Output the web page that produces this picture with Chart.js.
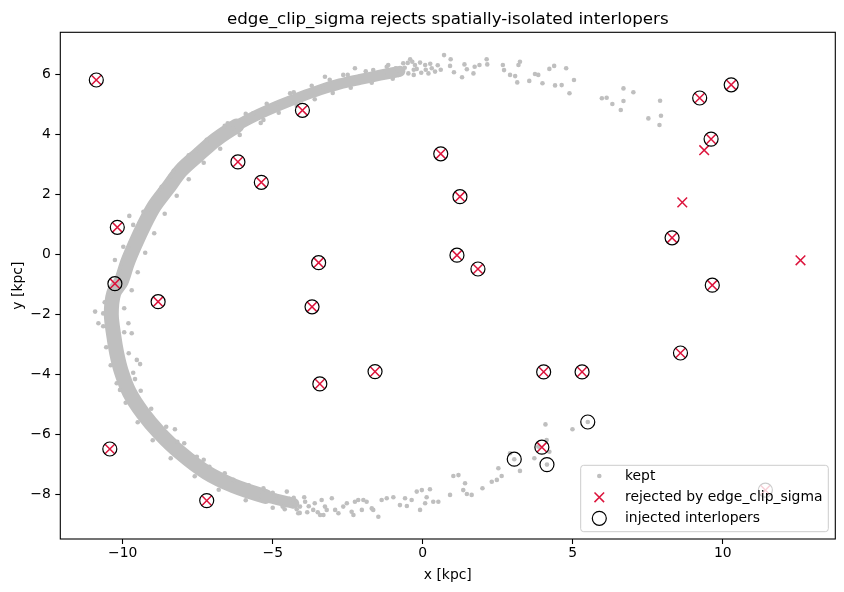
<!DOCTYPE html>
<html>
<head>
<meta charset="utf-8">
<script src="https://cdn.jsdelivr.net/npm/chart.js@4.4.1/dist/chart.umd.min.js"></script>
<style>
  html, body { margin: 0; padding: 0; background: #fff; }
  #wrap { width: 844px; height: 592px; }
</style>
</head>
<body>
<div id="wrap"><canvas id="edgeClip" width="844" height="592"></canvas></div>
<script>
const titleText = 'edge_clip_sigma rejects spatially-isolated interlopers';
const xLabel = 'x [kpc]';
const yLabel = 'y [kpc]';
const xTicks = [-10, -5, 0, 5, 10];
const yTicks = [-8, -6, -4, -2, 0, 2, 4, 6];
const xRange = [-12.08, 13.75];
const yRange = [-9.49, 7.4];
const seriesNames = ['kept', 'rejected by edge_clip_sigma', 'injected interlopers'];

// centre line of the dense part of the kept stream
const bandPath = [
  [-0.76, 6.1], [-1.42, 5.97], [-2.09, 5.83], [-2.76, 5.68], [-3.42, 5.48],
  [-4.09, 5.24], [-4.75, 4.98], [-5.5, 4.65], [-6.2, 4.28], [-6.9, 3.82], [-7.5, 3.3],
  [-8.05, 2.8], [-8.5, 2.2], [-8.95, 1.6], [-9.3, 0.95], [-9.6, 0.3], [-9.85, -0.3],
  [-10.05, -0.9], [-10.3, -1.3], [-10.38, -2.0], [-10.3, -2.7], [-10.2, -3.3],
  [-10.05, -3.9], [-9.78, -4.6], [-9.33, -5.3], [-8.78, -5.95], [-8.1, -6.6],
  [-7.2, -7.28], [-6.3, -7.72], [-5.25, -8.07], [-4.3, -8.3]
];

const keptPoints = [
  // sparse upper-right tail
  [0.71, 6.64], [0.93, 6.5], [0.91, 6.28], [1.04, 6.07], [1.31, 5.9], [1.39, 6.33], [1.47, 6.17],
  [1.69, 6.03], [1.73, 6.25], [1.89, 6.31], [2.13, 6.5], [2.15, 6.33], [2.67, 6.31], [2.71, 6.14],
  [2.91, 5.98], [3.08, 5.94], [3.15, 5.73], [3.19, 6.31], [3.24, 6.42], [3.55, 5.78], [3.74, 6.01],
  [3.85, 5.98], [3.99, 5.7], [4.22, 6.18], [4.38, 6.28], [4.41, 5.63], [4.63, 5.64], [4.78, 6.2],
  [4.89, 5.37], [5.04, 5.81], [5.97, 5.2], [6.13, 5.22], [6.32, 5.01], [6.6, 4.81], [6.69, 5.53],
  [6.69, 5.11], [7.02, 5.4], [7.52, 4.53], [7.91, 5.12], [7.94, 4.62], [7.89, 4.31],
  // top, thinning out
  [-0.65, 6.37], [-0.42, 6.5], [-0.26, 6.31], [-0.09, 6.39], [0.08, 6.31], [0.19, 6.03], [0.41, 6.09],
  [-0.48, 6.03], [-0.81, 5.98], [-1.15, 6.31], [-2.26, 6.2], [-3.26, 5.92], [-2.65, 5.98], [-1.65, 6.14],
  [0.3, 6.2], [0.5, 6.3], [-0.3, 6.15], [-0.9, 6.2], [-0.6, 6.22], [-0.2, 6.18], [0.1, 6.15],
  [-0.35, 6.42], [0.25, 6.35], [-0.7, 6.1], [-1.3, 6.05], [-0.05, 6.05], [0.6, 6.15],
  // edges of the dense band, top
  [-0.5, 6.38], [-1.2, 6.25], [-1.9, 6.1], [-2.5, 5.98], [-3.1, 5.82], [-3.7, 5.62], [-4.3, 5.4],
  [-0.3, 5.98], [-1.0, 5.85], [-1.7, 5.72], [-2.4, 5.55], [-3.0, 5.38], [-3.6, 5.17], [-4.2, 4.95], [-4.8, 4.72],
  // upper-left, outer and inner edge
  [-5.2, 5.02], [-5.9, 4.68], [-6.6, 4.28], [-7.2, 3.82], [-7.8, 3.3], [-8.3, 2.78], [-8.75, 2.15],
  [-9.15, 1.5], [-9.5, 0.85], [-9.8, 0.2], [-10.05, -0.45], [-10.3, -1.05],
  [-5.4, 4.38], [-6.1, 3.98], [-6.75, 3.52], [-7.3, 3.05], [-7.8, 2.5], [-8.2, 1.95], [-8.6, 1.35],
  [-8.95, 0.7], [-9.25, 0.05], [-9.5, -0.6], [-9.7, -1.2],
  [-6.5, 4.37], [-6.31, 4.2], [-7.2, 3.7], [-7.56, 3.45], [-8.42, 2.59], [-8.7, 2.25], [-9.31, 1.42],
  [-9.65, 0.98], [-9.78, 1.28], [-9.98, 0.25], [-10.26, -0.19], [-3.31, 5.53], [-4.42, 5.37],
  [-4.87, 5.03], [-5.65, 4.7], [-5.31, 4.48],
  // lower-left, outer and inner edge
  [-10.6, -1.6], [-10.65, -2.4], [-10.55, -3.1], [-10.4, -3.7], [-10.2, -4.3], [-9.9, -4.95],
  [-9.5, -5.6], [-9.0, -6.2], [-8.4, -6.8], [-7.6, -7.4], [-6.8, -7.85], [-5.9, -8.2], [-5.0, -8.45], [-4.1, -8.62],
  [-9.95, -1.8], [-9.95, -2.6], [-9.8, -3.3], [-9.65, -3.95], [-9.4, -4.55], [-9.05, -5.15],
  [-8.55, -5.75], [-7.95, -6.3], [-7.3, -6.85], [-6.6, -7.3], [-5.8, -7.7], [-5.0, -7.95], [-4.3, -8.12],
  [-10.92, -1.91], [-10.81, -2.3], [-10.65, -1.97], [-9.81, -2.3], [-9.7, -2.63], [-9.53, -3.52],
  [-9.42, -3.66], [-9.59, -4.16], [-10.09, -4.52], [-8.26, -5.83], [-8.18, -6.25], [-7.53, -6.75],
  [-7.11, -7.08], [-6.31, -7.52], [-5.31, -7.8], [-4.53, -7.91], [-4.15, -8.63], [-3.42, -8.69], [-3.2, -8.52],
  [-4.67, -8.41], [-4.31, -8.3], [-4.09, -8.41], [-3.92, -8.25], [-3.65, -8.52],
  [-4.9, -8.05], [-4.75, -8.3], [-4.45, -8.15], [-4.2, -8.5], [-3.95, -8.1], [-3.8, -8.4],
  [-3.6, -8.3], [-3.5, -8.6], [-4.6, -8.5], [-3.85, -8.6],
  // sparse bottom tail
  [-3.37, -8.19], [-3.26, -8.41], [-3.31, -8.69], [-3.03, -8.13], [-2.92, -8.52], [-2.81, -8.63],
  [-2.65, -8.41], [-2.53, -8.3], [-2.37, -8.58], [-2.31, -8.69], [-2.26, -8.25], [-2.15, -8.19],
  [-2.03, -8.52], [-1.98, -8.19], [-1.87, -8.25], [-1.7, -8.47], [-1.65, -8.52], [-1.48, -8.75],
  [-1.37, -8.19], [-1.2, -8.13], [-0.98, -8.1], [-0.76, -8.36], [-0.59, -8.13], [-0.53, -8.39],
  [-0.37, -8.19], [-0.2, -7.91], [-0.09, -8.52], [-0.03, -7.86], [0.08, -8.3], [0.13, -8.1],
  [0.24, -7.83], [0.35, -8.25], [0.52, -8.25], [0.91, -8.02], [1.02, -7.39], [1.19, -7.36],
  [1.35, -7.86], [1.41, -7.63], [1.47, -7.99], [1.63, -8.02], [1.99, -7.8], [2.3, -7.58],
  [2.47, -7.52], [2.63, -7.39], [2.52, -7.13], [3.24, -7.22], [2.91, -6.63], [3.05, -6.83],
  [3.72, -6.8], [3.85, -6.41], [4.13, -6.19], [4.09, -5.67], [4.22, -6.58], [4.14, -7.01],
  [4.99, -5.83], [5.5, -5.59]
];

const rejectedPoints = [
  [-10.88, 5.81], [-10.18, 0.9], [-10.26, -0.98], [-8.82, -1.58], [-6.16, 3.08], [-5.38, 2.4],
  [-4.01, 4.8], [0.6, 3.35], [1.24, 1.92], [-3.47, -0.28], [1.14, -0.03], [1.84, -0.49],
  [-3.69, -1.75], [-1.59, -3.91], [-3.43, -4.32], [4.03, -3.92], [3.97, -6.43], [5.31, -3.92],
  [8.59, -3.29], [11.42, -7.86], [10.28, 5.65], [9.23, 5.21], [9.61, 3.84], [8.31, 0.55],
  [9.65, -1.03], [-10.43, -6.49], [-7.2, -8.21], [9.38, 3.47], [8.65, 1.73], [12.59, -0.2]
];

const interloperPoints = [
  [-10.88, 5.81], [-10.18, 0.9], [-10.26, -0.98], [-8.82, -1.58], [-6.16, 3.08], [-5.38, 2.4],
  [-4.01, 4.8], [0.6, 3.35], [1.24, 1.92], [-3.47, -0.28], [1.14, -0.03], [1.84, -0.49],
  [-3.69, -1.75], [-1.59, -3.91], [-3.43, -4.32], [4.03, -3.92], [3.97, -6.43], [3.05, -6.83],
  [4.14, -7.01], [5.31, -3.92], [8.59, -3.29], [5.5, -5.59], [11.42, -7.86], [10.28, 5.65],
  [9.23, 5.21], [9.61, 3.84], [8.31, 0.55], [9.65, -1.03], [-10.43, -6.49], [-7.2, -8.21]
];

const FONT = 'DejaVu Sans';
const KEPT = '#bfbfbf';
const RED = '#dc143c';
const toXY = arr => arr.map(p => ({x: p[0], y: p[1]}));
const fmt = v => v < 0 ? '\u2212' + Math.abs(v) : String(v);

// band is thinner along the top and where it breaks up at the bottom
function bandWidth(c) {
  const p = bandPath[c.p0DataIndex];
  if (p[1] > 4.6) return 11;
  if (p[1] < -7.9) return 11;
  return 15;
}

const framePlugin = {
  id: 'framePlugin',
  afterDatasetsDraw(chart) {
    const ctx = chart.ctx, a = chart.chartArea;
    ctx.save();
    ctx.strokeStyle = '#000';
    ctx.lineWidth = 1.1;
    ctx.strokeRect(a.left, a.top, a.right - a.left, a.bottom - a.top);

    ctx.fillStyle = '#000';
    ctx.font = '16.7px "' + FONT + '"';
    ctx.textAlign = 'center';
    ctx.textBaseline = 'alphabetic';
    ctx.fillText(titleText, (a.left + a.right) / 2, 24);

    // legend box, lower right
    const w = 247.6, h = 66.4;
    const x0 = a.right - 7 - w, y0 = a.bottom - 7.3 - h, r = 3;
    ctx.beginPath();
    ctx.moveTo(x0 + r, y0);
    ctx.lineTo(x0 + w - r, y0);
    ctx.quadraticCurveTo(x0 + w, y0, x0 + w, y0 + r);
    ctx.lineTo(x0 + w, y0 + h - r);
    ctx.quadraticCurveTo(x0 + w, y0 + h, x0 + w - r, y0 + h);
    ctx.lineTo(x0 + r, y0 + h);
    ctx.quadraticCurveTo(x0, y0 + h, x0, y0 + h - r);
    ctx.lineTo(x0, y0 + r);
    ctx.quadraticCurveTo(x0, y0, x0 + r, y0);
    ctx.closePath();
    ctx.fillStyle = 'rgba(255,255,255,0.8)';
    ctx.fill();
    ctx.strokeStyle = '#cccccc';
    ctx.lineWidth = 1;
    ctx.stroke();

    const mx = x0 + 18.6, tx = x0 + 44.3;
    const rows = [y0 + 10.7, y0 + 32, y0 + 53];
    ctx.fillStyle = KEPT;
    ctx.beginPath(); ctx.arc(mx, rows[0], 2.3, 0, Math.PI * 2); ctx.fill();
    ctx.strokeStyle = RED; ctx.lineWidth = 1.5;
    ctx.beginPath();
    ctx.moveTo(mx - 4.8, rows[1] - 4.8); ctx.lineTo(mx + 4.8, rows[1] + 4.8);
    ctx.moveTo(mx - 4.8, rows[1] + 4.8); ctx.lineTo(mx + 4.8, rows[1] - 4.8);
    ctx.stroke();
    ctx.strokeStyle = '#000'; ctx.lineWidth = 1.2;
    ctx.beginPath(); ctx.arc(mx, rows[2], 7, 0, Math.PI * 2); ctx.stroke();

    ctx.fillStyle = '#000';
    ctx.font = '13.9px "' + FONT + '"';
    ctx.textAlign = 'left';
    ctx.textBaseline = 'middle';
    seriesNames.forEach((s, i) => ctx.fillText(s, tx, rows[i]));
    ctx.restore();
  }
};

const tickFont = {family: FONT, size: 13.9};

new Chart(document.getElementById('edgeClip'), {
  type: 'scatter',
  data: {
    datasets: [
      {
        label: 'band',
        data: toXY(bandPath),
        showLine: true,
        pointRadius: 0,
        borderColor: KEPT,
        borderWidth: 15,
        borderCapStyle: 'round',
        borderJoinStyle: 'round',
        tension: 0.3,
        segment: { borderWidth: bandWidth },
        order: 4
      },
      {
        label: seriesNames[0],
        data: toXY(keptPoints),
        pointRadius: 2.3,
        pointBorderWidth: 0,
        backgroundColor: KEPT,
        borderColor: KEPT,
        order: 3
      },
      {
        label: seriesNames[1],
        data: toXY(rejectedPoints),
        pointStyle: 'crossRot',
        pointRadius: 6.8,
        pointBorderWidth: 1.5,
        borderColor: RED,
        backgroundColor: RED,
        order: 2
      },
      {
        label: seriesNames[2],
        data: toXY(interloperPoints),
        pointStyle: 'circle',
        pointRadius: 7,
        pointBorderWidth: 1.2,
        borderColor: '#000',
        backgroundColor: 'rgba(0,0,0,0)',
        order: 1
      }
    ]
  },
  options: {
    responsive: false,
    animation: false,
    events: [],
    devicePixelRatio: 1,
    layout: { padding: { top: 32.3, right: 8.7, left: 0, bottom: 0 } },
    plugins: { legend: { display: false }, tooltip: { enabled: false }, title: { display: false } },
    scales: {
      x: {
        type: 'linear',
        min: xRange[0],
        max: xRange[1],
        afterBuildTicks: s => { s.ticks = xTicks.map(v => ({value: v})); },
        afterFit: s => { s.height = 53; },
        border: { display: false },
        grid: { drawOnChartArea: false, drawTicks: true, tickLength: 5, tickColor: '#000', tickWidth: 1.1 },
        ticks: { color: '#000', font: tickFont, padding: 1.5, maxRotation: 0, autoSkip: false, callback: fmt },
        title: { display: true, text: xLabel, color: '#000', font: tickFont, padding: { top: 8.7, bottom: 8.7 } }
      },
      y: {
        type: 'linear',
        min: yRange[0],
        max: yRange[1],
        afterBuildTicks: s => { s.ticks = yTicks.map(v => ({value: v})); },
        afterFit: s => { s.width = 60.3; },
        border: { display: false },
        grid: { drawOnChartArea: false, drawTicks: true, tickLength: 5, tickColor: '#000', tickWidth: 1.1 },
        ticks: { color: '#000', font: tickFont, padding: 4.5, autoSkip: false, callback: fmt },
        title: { display: true, text: yLabel, color: '#000', font: tickFont, padding: { top: 9.7, bottom: 0 } }
      }
    }
  },
  plugins: [framePlugin]
});
</script>
</body>
</html>
